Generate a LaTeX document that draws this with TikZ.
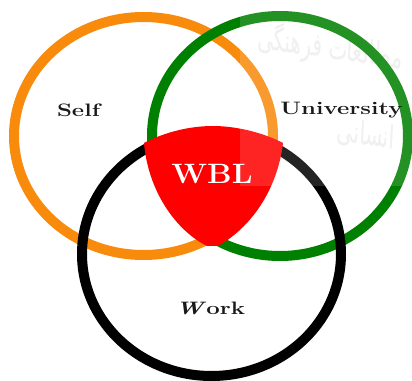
\documentclass[tikz,border=0pt]{standalone}
\usepackage{fontspec}
\newfontfamily\arabicfont[Script=Arabic]{DejaVu Sans}
\TeXXeTstate=1
\definecolor{ringorange}{HTML}{F88A0C}
\definecolor{ringgreen}{HTML}{008000}
\definecolor{ringblack}{HTML}{000000}
\definecolor{wm}{HTML}{EEEEEE}
\tikzset{
  x=0.75pt,y=-0.75pt,
  ring/.style={line width=7.5pt,fill=none},
  lbl/.style={font=\bfseries\fontsize{13.5}{15}\selectfont,text=black!90,inner sep=0pt,xscale=1.33},
  wmark/.style={font=\arabicfont\fontsize{15}{17}\selectfont,text=wm,inner sep=0pt,yscale=1.6}
}
\begin{document}
\begin{tikzpicture}
\useasboundingbox (0,0) rectangle (412,381);
\fill[white] (0,0) rectangle (412,381);
\node[wmark,rotate=-5] (wa) at (330,48) {\beginR مطالعات فرهنگی\endR};
\node[wmark,rotate=-5] (wb) at (366,135) {\beginR انسانی\endR};
\draw[ring,ringorange] (143.5,136) ellipse [x radius=129.5,y radius=119];
\draw[ring,ringgreen] (280,136) ellipse [x radius=128,y radius=120];
\draw[ring,ringblack] (211.5,254) ellipse [x radius=129.5,y radius=122];
\fill[red] (144,143) .. controls (165,132) and (190,126) .. (213,126)
  .. controls (235,126) and (262,132) .. (283,143)
  .. controls (278,185) and (255,225) .. (218,246)
  -- (207,246)
  .. controls (175,230) and (148,190) .. (144,143) -- cycle;
\fill[white,opacity=0.14] (240,0) rectangle (412,186);
\node[lbl] (self) at (78.5,110) {Self};
\node[lbl] (univ) at (341.5,110) {University};
\node[lbl] (work) at (210.5,308) {\textit{W}ork};
\node[font=\bfseries\fontsize{21}{24}\selectfont,text=white,inner sep=0pt,xscale=1.1] (wbl) at (212,174) {WBL};
\end{tikzpicture}
\end{document}
